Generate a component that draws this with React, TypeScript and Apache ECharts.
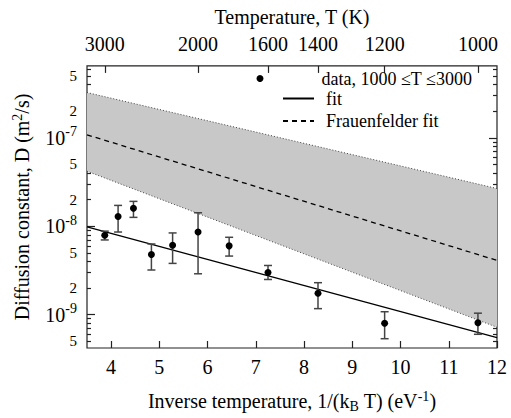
import React, { useEffect, useRef } from 'react';
import * as echarts from 'echarts';

const KB = 8.617333e-5; // eV/K
const FONT = "'Liberation Serif', 'Times New Roman', serif";

const X_MIN = 3.5;
const X_MAX = 12;
const Y_MIN = 4.2e-10;
const Y_MAX = 6.5e-7;

const X_TICKS = [4, 5, 6, 7, 8, 9, 10, 11, 12];
const TOP_TEMPS = [3000, 2000, 1600, 1400, 1200, 1000];
const Y_LABELS = [5e-10, 1e-9, 2e-9, 5e-9, 1e-8, 2e-8, 5e-8, 1e-7, 2e-7, 5e-7];
const Y_MAJOR = [1e-9, 1e-8, 1e-7];

// measured data
const DATA_T = [3000, 2800, 2600, 2400, 2200, 2000, 1800, 1600, 1400, 1200, 1000];
const DATA_D = [7.9e-9, 1.29e-8, 1.6e-8, 4.8e-9, 6.1e-9, 8.6e-9, 6.0e-9, 3.0e-9, 1.75e-9, 8.0e-10, 8.1e-10];
const DATA_LOW = [7.0e-9, 8.6e-9, 1.26e-8, 3.2e-9, 3.8e-9, 2.9e-9, 4.6e-9, 2.5e-9, 1.17e-9, 5.35e-10, 6.0e-10];
const DATA_HIGH = [8.8e-9, 1.72e-8, 1.91e-8, 6.3e-9, 8.4e-9, 1.42e-8, 7.5e-9, 3.6e-9, 2.3e-9, 1.08e-9, 1.04e-9];

// lines (end points at x = 3.5 and x = 12)
const LINE_X = [3.5, 12];
const FIT_D = [9.86e-9, 5.52e-10];
const FRAUENFELDER_D = [1.08e-7, 4.11e-9];
const BAND_UPPER = [3.25e-7, 2.67e-8];
const BAND_LOWER = [4.19e-8, 7.2e-10];

const lg = Math.log10;

const minorTicks: number[] = [];
for (let e = -10; e <= -7; e++) {
  for (let m = 2; m <= 9; m++) {
    const v = m * Math.pow(10, e);
    if (v >= Y_MIN && v <= Y_MAX) minorTicks.push(lg(v));
  }
}

const AXIS_COLOR = '#222';

function yLabelFormatter(v: number) {
  const e = Math.floor(v + 1e-9);
  const m = Math.round(Math.pow(10, v - e));
  if (m === 1 || m === 10) return `{b|10}{s|${m === 10 ? e + 1 : e}}`;
  return `{n|${m}}`;
}

export default function App() {
  const ref = useRef<HTMLDivElement>(null);
  useEffect(() => {
    if (!ref.current) return;
    const chart = echarts.init(ref.current, undefined, { renderer: 'svg' });
    const yBase = {
      type: 'value',
      min: lg(Y_MIN),
      max: lg(Y_MAX),
      splitLine: { show: false },
      axisLine: { show: false },
    };
    const legendText = (pad: number) => ({
      fontFamily: FONT,
      fontSize: 18,
      color: '#000',
      padding: [0, 0, 0, pad],
    });
    const option: any = {
      animation: false,
      textStyle: { fontFamily: FONT, color: '#000' },
      grid: {
        left: 87,
        top: 54,
        right: 14,
        bottom: 64,
        show: true,
        borderColor: AXIS_COLOR,
        borderWidth: 1.2,
        containLabel: false,
      },
      legend: [
        {
          data: [{ name: 'data, 1000 ≤T ≤3000' }],
          left: 256.5,
          top: 69.5,
          padding: 0,
          itemWidth: 7,
          itemHeight: 7,
          selectedMode: false,
          itemStyle: { opacity: 1 },
          textStyle: legendText(53),
        },
        {
          data: [{ name: 'fit' }],
          left: 282,
          top: 89.5,
          padding: 0,
          itemWidth: 31,
          itemHeight: 10,
          selectedMode: false,
          itemStyle: { color: 'transparent', borderWidth: 0, opacity: 0 },
          textStyle: legendText(7),
        },
        {
          data: [{ name: 'Frauenfelder fit' }],
          left: 282,
          top: 112,
          padding: 0,
          itemWidth: 31,
          itemHeight: 10,
          selectedMode: false,
          itemStyle: { color: 'transparent', borderWidth: 0, opacity: 0 },
          textStyle: legendText(7),
        },
      ],
      xAxis: [
        {
          type: 'value',
          position: 'bottom',
          min: X_MIN,
          max: X_MAX,
          splitLine: { show: false },
          axisLine: { show: false },
          axisTick: {
            inside: true,
            length: 7,
            customValues: X_TICKS,
            lineStyle: { color: AXIS_COLOR, width: 1.2 },
          },
          axisLabel: {
            customValues: X_TICKS,
            margin: 9,
            fontSize: 20,
            fontFamily: FONT,
            color: '#000',
          },
          name: 'Inverse temperature, 1/(k{sub|B} T) (eV{sup|-1})',
          nameLocation: 'middle',
          nameGap: 41,
          nameTextStyle: {
            fontFamily: FONT,
            fontSize: 20,
            color: '#000',
            lineHeight: 24,
            rich: {
              sub: { fontSize: 14, fontFamily: FONT, lineHeight: 14, verticalAlign: 'bottom' },
              sup: { fontSize: 14, fontFamily: FONT, lineHeight: 14, verticalAlign: 'top' },
            },
          },
        },
        {
          type: 'value',
          position: 'top',
          min: X_MIN,
          max: X_MAX,
          splitLine: { show: false },
          axisLine: { show: false },
          axisTick: {
            inside: true,
            length: 7,
            customValues: TOP_TEMPS.map((t) => 1 / (KB * t)),
            lineStyle: { color: AXIS_COLOR, width: 1.2 },
          },
          axisLabel: {
            customValues: TOP_TEMPS.map((t) => 1 / (KB * t)),
            formatter: (v: number) => String(Math.round(1 / (KB * v))),
            margin: 12,
            fontSize: 20,
            fontFamily: FONT,
            color: '#000',
          },
          name: 'Temperature, T (K)',
          nameLocation: 'middle',
          nameGap: 29,
          nameTextStyle: { fontFamily: FONT, fontSize: 20, color: '#000', lineHeight: 24 },
        },
      ],
      yAxis: [
        {
          ...yBase,
          position: 'left',
          axisTick: {
            inside: true,
            length: 8,
            customValues: Y_MAJOR.map(lg),
            lineStyle: { color: AXIS_COLOR, width: 1.2 },
          },
          axisLabel: {
            customValues: Y_LABELS.map(lg),
            formatter: yLabelFormatter,
            margin: 10,
            color: '#000',
            rich: {
              b: { fontSize: 20, fontFamily: FONT, lineHeight: 26, color: '#000' },
              s: { fontSize: 14, fontFamily: FONT, lineHeight: 14, verticalAlign: 'top', color: '#000' },
              n: { fontSize: 15, fontFamily: FONT, lineHeight: 18, color: '#000' },
            },
          },
          name: 'Diffusion constant, D (m{sup|2}/s)',
          nameLocation: 'middle',
          nameRotate: 90,
          nameGap: 46,
          nameTextStyle: {
            fontFamily: FONT,
            fontSize: 20,
            color: '#000',
            lineHeight: 24,
            rich: {
              sup: { fontSize: 14, fontFamily: FONT, lineHeight: 14, verticalAlign: 'top' },
            },
          },
        },
        {
          ...yBase,
          position: 'left',
          axisTick: {
            inside: true,
            length: 4,
            customValues: minorTicks,
            lineStyle: { color: AXIS_COLOR, width: 1.2 },
          },
          axisLabel: { show: false },
        },
        {
          ...yBase,
          position: 'right',
          axisTick: {
            inside: true,
            length: 8,
            customValues: Y_MAJOR.map(lg),
            lineStyle: { color: AXIS_COLOR, width: 1.2 },
          },
          axisLabel: { show: false },
        },
        {
          ...yBase,
          position: 'right',
          axisTick: {
            inside: true,
            length: 4,
            customValues: minorTicks,
            lineStyle: { color: AXIS_COLOR, width: 1.2 },
          },
          axisLabel: { show: false },
        },
      ],
      series: [
        {
          type: 'custom',
          name: 'band',
          silent: true,
          z: 1,
          encode: { x: [0, 3], y: [1, 2, 4, 5] },
          data: [[
            LINE_X[0], lg(BAND_UPPER[0]), lg(BAND_LOWER[0]),
            LINE_X[1], lg(BAND_UPPER[1]), lg(BAND_LOWER[1]),
          ]],
          renderItem: (params: any, api: any) => {
            const p1 = api.coord([api.value(0), api.value(1)]);
            const p2 = api.coord([api.value(3), api.value(4)]);
            const p3 = api.coord([api.value(3), api.value(5)]);
            const p4 = api.coord([api.value(0), api.value(2)]);
            return {
              type: 'polygon',
              shape: { points: [p1, p2, p3, p4] },
              style: { fill: '#c8c8c8' },
            };
          },
        },
        {
          type: 'line',
          name: 'band upper',
          symbol: 'none',
          silent: true,
          z: 2,
          data: LINE_X.map((x, i) => [x, lg(BAND_UPPER[i])]),
          lineStyle: { color: '#444', width: 1, type: [1, 2] },
        },
        {
          type: 'line',
          name: 'band lower',
          symbol: 'none',
          silent: true,
          z: 2,
          data: LINE_X.map((x, i) => [x, lg(BAND_LOWER[i])]),
          lineStyle: { color: '#444', width: 1, type: [1, 2] },
        },
        {
          type: 'line',
          name: 'fit',
          symbol: 'none',
          z: 3,
          data: LINE_X.map((x, i) => [x, lg(FIT_D[i])]),
          lineStyle: { color: '#000', width: 1.3, type: 'solid' },
          itemStyle: { color: '#000' },
        },
        {
          type: 'line',
          name: 'Frauenfelder fit',
          symbol: 'none',
          z: 3,
          data: LINE_X.map((x, i) => [x, lg(FRAUENFELDER_D[i])]),
          lineStyle: { color: '#000', width: 1.3, type: [5, 4] },
          itemStyle: { color: '#000' },
        },
        {
          type: 'custom',
          name: 'errors',
          silent: true,
          z: 4,
          encode: { x: 0, y: [1, 2] },
          data: DATA_T.map((t, i) => [1 / (KB * t), lg(DATA_LOW[i]), lg(DATA_HIGH[i])]),
          renderItem: (params: any, api: any) => {
            const lo = api.coord([api.value(0), api.value(1)]);
            const hi = api.coord([api.value(0), api.value(2)]);
            const w = 4;
            const style = { stroke: '#444', lineWidth: 1.5 };
            return {
              type: 'group',
              children: [
                { type: 'line', shape: { x1: lo[0], y1: lo[1], x2: hi[0], y2: hi[1] }, style },
                { type: 'line', shape: { x1: lo[0] - w, y1: lo[1], x2: lo[0] + w, y2: lo[1] }, style },
                { type: 'line', shape: { x1: hi[0] - w, y1: hi[1], x2: hi[0] + w, y2: hi[1] }, style },
              ],
            };
          },
        },
        {
          type: 'scatter',
          name: 'data, 1000 ≤T ≤3000',
          symbol: 'circle',
          symbolSize: 7,
          z: 5,
          itemStyle: { color: '#000', opacity: 1 },
          data: DATA_T.map((t, i) => [1 / (KB * t), lg(DATA_D[i])]),
        },
      ],
    };
    chart.setOption(option);
    return () => chart.dispose();
  }, []);
  return (
    <div
      ref={ref}
      style={{ position: 'fixed', left: 0, top: 0, width: 511, height: 418, background: '#fff' }}
    />
  );
}
